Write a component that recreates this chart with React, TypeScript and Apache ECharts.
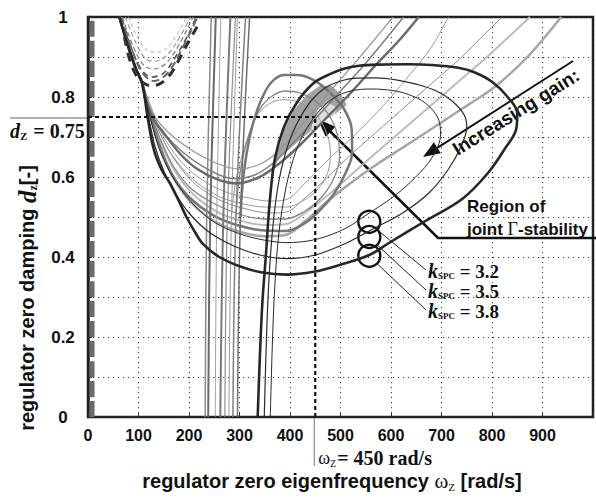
import { useEffect, useRef } from 'react';
import * as echarts from 'echarts';

const SANS = '"Liberation Sans", Arial, sans-serif';
const SERIF = '"Liberation Serif", "Times New Roman", serif';

// ---- axes ----
const xTickValues = [0, 100, 200, 300, 400, 500, 600, 700, 800, 900];
const yTickLabels = ['0', '0.2', '0.4', '0.6', '0.8', '1'];

// ---- chosen design point ----
const designOmega = 450;
const designDamping = 0.75;

// ---- stability boundaries: [omega_z rad/s, d_z -] ----
const bundleTop = [[62, 1], [80, 0.925], [95, 0.87], [107, 0.835]];

const dashBand = [[8, 0], [8, 1]];
const dashU1 = [[72, 0.95], [81, 0.9], [95, 0.855], [110, 0.835], [125, 0.828], [145, 0.835], [165, 0.86], [183, 0.9], [200, 0.94], [218, 0.98]];
const dashU2 = [[64, 1], [85, 0.925], [105, 0.87], [125, 0.85], [150, 0.86], [178, 0.91], [200, 0.96], [214, 1]];
const dashU3 = [[68, 1], [90, 0.925], [110, 0.88], [130, 0.87], [155, 0.885], [180, 0.93], [208, 1]];
const dashU4 = [[74, 1], [95, 0.935], [115, 0.895], [135, 0.89], [160, 0.91], [184, 0.955], [203, 1]];
const dashU5 = [[80, 1], [100, 0.945], [120, 0.915], [140, 0.912], [165, 0.935], [195, 1]];
const dashU6 = [[66, 1], [88, 0.915], [108, 0.86], [130, 0.84], [158, 0.86], [186, 0.92], [217, 1]];

const vert1 = [[232, 0], [235, 0.5], [244, 1]];
const vert2 = [[238, 0], [242, 0.5], [253, 1]];
const vert3 = [[252, 0], [255, 0.5], [263, 1]];
const vert4 = [[262, 0], [268, 0.5], [282, 1]];
const vert5 = [[271, 0], [276, 0.5], [292, 1]];
const vert6 = [[279, 0], [284, 0.5], [296, 1]];
const vert7 = [[287, 0], [293, 0.5], [312, 1]];
const vert8 = [[296, 0], [302, 0.5], [320, 1]];

const upper1 = [...bundleTop, [115, 0.79], [130, 0.745], [150, 0.71], [181, 0.66], [214, 0.622], [260, 0.592], [293, 0.584], [340, 0.6], [380, 0.635], [420, 0.68], [470, 0.745], [520, 0.81], [570, 0.88], [615, 0.94], [655, 1]];
const upper2 = [...bundleTop, [116, 0.785], [132, 0.74], [153, 0.705], [185, 0.665], [220, 0.632], [260, 0.605], [290, 0.596], [330, 0.605], [370, 0.638], [410, 0.69], [450, 0.745], [500, 0.815], [540, 0.87], [580, 0.93], [625, 1]];
const upper3 = [...bundleTop, [117, 0.79], [134, 0.748], [156, 0.715], [190, 0.68], [228, 0.65], [268, 0.628], [300, 0.62], [340, 0.632], [375, 0.662], [410, 0.71], [450, 0.77], [490, 0.83], [530, 0.887], [565, 0.94], [604, 1]];

const lower1 = [...bundleTop, [122, 0.76], [141, 0.68], [168, 0.6], [205, 0.535], [250, 0.49], [300, 0.463], [350, 0.452], [391, 0.455], [430, 0.49], [475, 0.54], [520, 0.585], [570, 0.63], [625, 0.675], [680, 0.72], [740, 0.77], [805, 0.825], [870, 0.9], [937, 1]];
const lower2 = [...bundleTop, [123, 0.765], [143, 0.69], [172, 0.615], [210, 0.555], [260, 0.51], [310, 0.488], [350, 0.48], [391, 0.482], [430, 0.51], [480, 0.56], [525, 0.61], [570, 0.66], [625, 0.72], [680, 0.78], [735, 0.84], [790, 0.9], [875, 1]];
const lower3 = [...bundleTop, [124, 0.77], [146, 0.7], [176, 0.635], [215, 0.58], [265, 0.54], [320, 0.518], [360, 0.51], [391, 0.512], [430, 0.548], [473, 0.598], [520, 0.655], [560, 0.7], [605, 0.75], [650, 0.8], [700, 0.855], [740, 0.9], [780, 0.95], [820, 1]];
const lower4 = [...bundleTop, [125, 0.775], [148, 0.705], [180, 0.645], [220, 0.598], [268, 0.565], [320, 0.547], [360, 0.54], [391, 0.543], [430, 0.585], [473, 0.64], [520, 0.695], [560, 0.745], [600, 0.8], [640, 0.86], [680, 0.925], [714, 1]];

const loop1 = [...bundleTop, [122, 0.76], [140, 0.685], [165, 0.61], [200, 0.55], [250, 0.503], [300, 0.478], [350, 0.466], [391, 0.465], [430, 0.485], [460, 0.518], [488, 0.56], [510, 0.61], [523, 0.66], [522, 0.72], [507, 0.77], [480, 0.81], [447, 0.842], [414, 0.855], [388, 0.855], [362, 0.835], [342, 0.79], [325, 0.725], [313, 0.65], [306, 0.58], [302, 0.5]];
const loop2 = [...bundleTop, [123, 0.765], [143, 0.695], [170, 0.625], [205, 0.57], [255, 0.53], [305, 0.505], [350, 0.495], [391, 0.495], [430, 0.515], [463, 0.55], [488, 0.6], [498, 0.65], [494, 0.705], [477, 0.755], [450, 0.79], [420, 0.81], [390, 0.815], [362, 0.8], [338, 0.765], [320, 0.71], [306, 0.645], [297, 0.57], [293, 0.5]];
const loop3 = [...bundleTop, [124, 0.77], [146, 0.7], [175, 0.64], [212, 0.59], [262, 0.55], [310, 0.532], [350, 0.525], [391, 0.525], [428, 0.542], [457, 0.572], [475, 0.612], [480, 0.66], [470, 0.718], [447, 0.762], [415, 0.788], [385, 0.793], [357, 0.782], [333, 0.75], [314, 0.69], [299, 0.625], [289, 0.56], [284, 0.5]];

// k_SPC = 3.2, 3.5, 3.8
const kspc32 = [...bundleTop, [122, 0.755], [137, 0.685], [155, 0.63], [178, 0.58], [210, 0.53], [250, 0.487], [300, 0.458], [350, 0.442], [394, 0.436], [435, 0.44], [473, 0.452], [515, 0.475], [551, 0.505], [604, 0.55], [649, 0.6], [682, 0.65], [698, 0.705], [694, 0.745], [668, 0.785], [635, 0.806], [604, 0.816], [560, 0.82], [520, 0.815], [490, 0.8], [465, 0.775], [440, 0.735], [420, 0.69], [403, 0.63], [390, 0.56], [378, 0.46], [370, 0.33], [365, 0.18], [361, 0]];
const kspc35 = [...bundleTop, [120, 0.75], [133, 0.675], [150, 0.615], [170, 0.565], [200, 0.51], [240, 0.462], [290, 0.427], [340, 0.405], [394, 0.396], [450, 0.405], [512, 0.435], [564, 0.47], [623, 0.51], [675, 0.56], [714, 0.62], [740, 0.68], [750, 0.725], [745, 0.755], [721, 0.79], [690, 0.815], [650, 0.832], [610, 0.843], [570, 0.848], [530, 0.847], [500, 0.84], [470, 0.823], [445, 0.795], [423, 0.755], [405, 0.71], [390, 0.655], [378, 0.59], [368, 0.5], [360, 0.38], [354, 0.22], [349, 0]];
const kspc38 = [...bundleTop, [118, 0.75], [130, 0.67], [145, 0.62], [162, 0.585], [180, 0.54], [195, 0.5], [212, 0.462], [228, 0.432], [260, 0.4], [300, 0.377], [342, 0.362], [394, 0.356], [447, 0.363], [498, 0.38], [557, 0.405], [596, 0.435], [668, 0.49], [741, 0.545], [792, 0.61], [825, 0.67], [848, 0.72], [850, 0.76], [831, 0.8], [800, 0.838], [765, 0.862], [733, 0.873], [680, 0.88], [635, 0.882], [576, 0.881], [537, 0.878], [505, 0.87], [479, 0.857], [447, 0.835], [414, 0.787], [388, 0.725], [370, 0.645], [360, 0.54], [352, 0.4], [345, 0.28], [340, 0.14], [336, 0]];

// region of joint stability (outer) and its core
const jointRegion = [[360, 0.605], [375, 0.662], [388, 0.718], [408, 0.768], [433, 0.805], [459, 0.828], [482, 0.828], [502, 0.805], [512, 0.78], [492, 0.76], [469, 0.743], [439, 0.713], [408, 0.68], [379, 0.648]];
const jointCore = [[441, 0.705], [445, 0.743], [457, 0.773], [476, 0.785], [494, 0.773], [488, 0.758], [467, 0.74], [449, 0.715]];

// reference lines to the design point
const refHorizontal = [[0, designDamping], [designOmega, designDamping]];
const refVertical = [[designOmega, 0], [designOmega, designDamping]];

// curve markers for the three gains
const kCircleCenters = [[557, 0.488], [557, 0.45], [557, 0.403]];
const kValues = ['3.2', '3.5', '3.8'];
const arrowTarget = [455, 0.745];

type Styled = { data: number[][]; color: string; width: number; dash?: number[] };

const curves: Styled[] = [
  { data: dashBand, color: '#6c6c6c', width: 5, dash: [16, 4] },
  { data: dashU5, color: '#b0b0b0', width: 1, dash: [4, 3] },
  { data: dashU4, color: '#9a9a9a', width: 1.2, dash: [5, 3] },
  { data: dashU3, color: '#7c7c7c', width: 1.2, dash: [5, 3] },
  { data: dashU2, color: '#555555', width: 1.6, dash: [6, 4] },
  { data: dashU6, color: '#686868', width: 2, dash: [8, 4] },
  { data: dashU1, color: '#2e2e2e', width: 3, dash: [9, 7] },
  { data: lower2, color: '#bcbcbc', width: 2 },
  { data: lower1, color: '#a6a6a6', width: 2.5 },
  { data: lower4, color: '#9a9a9a', width: 1 },
  { data: lower3, color: '#8c8c8c', width: 1 },
  { data: loop3, color: '#979797', width: 1 },
  { data: loop2, color: '#858585', width: 1.3 },
  { data: loop1, color: '#767676', width: 2.5 },
  { data: vert3, color: '#a0a0a0', width: 1 },
  { data: vert6, color: '#9a9a9a', width: 1 },
  { data: vert5, color: '#909090', width: 1.2 },
  { data: vert1, color: '#8a8a8a', width: 1.5 },
  { data: vert7, color: '#808080', width: 1.5 },
  { data: vert4, color: '#7a7a7a', width: 2 },
  { data: vert8, color: '#6e6e6e', width: 1.5 },
  { data: vert2, color: '#6a6a6a', width: 2 },
  { data: upper3, color: '#959595', width: 1.2 },
  { data: upper2, color: '#7e7e7e', width: 1.5 },
  { data: upper1, color: '#6a6a6a', width: 2.5 },
  { data: kspc32, color: '#2a2a2a', width: 1 },
  { data: kspc35, color: '#2a2a2a', width: 1.2 },
  { data: kspc38, color: '#262626', width: 2.6 },
];

function arrowHead(tip: number[], from: number[], len: number, half: number) {
  const dx = tip[0] - from[0];
  const dy = tip[1] - from[1];
  const L = Math.hypot(dx, dy);
  const ux = dx / L;
  const uy = dy / L;
  const bx = tip[0] - ux * len;
  const by = tip[1] - uy * len;
  return [tip, [bx - uy * half, by + ux * half], [bx + uy * half, by - ux * half]];
}

export default function App() {
  const ref = useRef<HTMLDivElement>(null);

  useEffect(() => {
    document.body.style.margin = '0';
    const chart = echarts.init(ref.current!, undefined, { renderer: 'svg' });

    const lineSeries = curves.map((c) => ({
      type: 'line',
      data: c.data,
      smooth: 0.35,
      showSymbol: false,
      silent: true,
      z: 3,
      lineStyle: { color: c.color, width: c.width, type: c.dash ? c.dash : 'solid', cap: 'butt' },
    }));

    chart.setOption({
      animation: false,
      grid: {
        left: 88, top: 17, right: -3, bottom: 81,
        show: true, borderColor: '#1e1e1e', borderWidth: 2.5, backgroundColor: 'transparent',
      },
      xAxis: {
        type: 'value', min: 0, max: 1000, interval: 100,
        axisLine: { show: true, lineStyle: { color: '#222', width: 2 } },
        axisTick: { show: true, inside: true, length: 4, lineStyle: { color: '#333' } },
        axisLabel: {
          fontFamily: SANS, fontWeight: 'bold', fontSize: 16, color: '#111', margin: 10,
          formatter: (v: number) => (xTickValues.includes(v) ? String(v) : ''),
        },
        splitLine: { show: true, lineStyle: { color: '#3a3a3a', width: 1, type: [1.2, 3.8] } },
      },
      yAxis: {
        type: 'value', min: 0, max: 1, interval: 0.1,
        axisLine: { show: true, lineStyle: { color: '#1e1e1e', width: 2.5 } },
        axisTick: { show: true, inside: true, length: 4, lineStyle: { color: '#333' } },
        axisLabel: {
          fontFamily: SANS, fontWeight: 'bold', fontSize: 17, color: '#111', margin: 25, align: 'center',
          formatter: (v: number) => {
            const s = String(+v.toFixed(1));
            return yTickLabels.includes(s) ? s : '';
          },
        },
        splitLine: { show: true, lineStyle: { color: '#3a3a3a', width: 1, type: [1.2, 3.8] } },
      },
      series: [
        {
          type: 'custom',
          coordinateSystem: 'cartesian2d',
          silent: true,
          z: 2,
          data: [[0, 0]],
          renderItem: (_p: any, api: any) => ({
            type: 'group',
            children: [
              { type: 'polygon', shape: { points: jointRegion.map((p) => api.coord(p)) }, style: { fill: '#a2a2a2' } },
              { type: 'polygon', shape: { points: jointCore.map((p) => api.coord(p)) }, style: { fill: '#dcdcdc' } },
            ],
          }),
        },
        ...lineSeries,
        {
          type: 'line', data: refHorizontal, showSymbol: false, silent: true, z: 4,
          lineStyle: { color: '#111', width: 2.2, type: [4, 3] },
        },
        {
          type: 'line', data: refVertical, showSymbol: false, silent: true, z: 4,
          lineStyle: { color: '#111', width: 2.2, type: [4, 3] },
        },
      ],
    });

    const px = (p: number[]) => chart.convertToPixel({ gridIndex: 0 }, p) as number[];
    const design = px([designOmega, designDamping]);
    const origin = px([designOmega, 0]);
    const tip = px(arrowTarget);

    const gainFrom = [573, 61];
    const gainTo = [423, 157];
    const leaderCorner = [438, 238];

    const graphics: any[] = [
      // d_Z marker left of the axis
      { type: 'line', shape: { x1: 10, y1: design[1] + 1, x2: 87, y2: design[1] + 1 }, style: { stroke: '#666', lineWidth: 1 } },
      {
        type: 'text', x: 10, y: design[1] + 14,
        style: {
          text: '{d|d}{s|Z}{t| = 0.75}', verticalAlign: 'middle', align: 'left',
          rich: {
            d: { fontFamily: SERIF, fontStyle: 'italic', fontWeight: 'bold', fontSize: 20, fill: '#111', lineHeight: 20 },
            s: { fontFamily: SERIF, fontWeight: 'bold', fontSize: 11, fill: '#111', verticalAlign: 'bottom', lineHeight: 19, padding: [0, 1, 0, 0] },
            t: { fontFamily: SERIF, fontWeight: 'bold', fontSize: 20, fill: '#111', lineHeight: 20 },
          },
        },
      },
      // omega_Z marker below the axis
      { type: 'line', shape: { x1: origin[0] - 1, y1: origin[1] + 1, x2: origin[0] - 1, y2: origin[1] + 49 }, style: { stroke: '#777', lineWidth: 1 } },
      {
        type: 'text', x: origin[0] + 3, y: origin[1] + 41,
        style: {
          text: '{w|ω}{s|Z}{t|= 450 rad/s}', verticalAlign: 'middle', align: 'left',
          rich: {
            w: { fontFamily: SERIF, fontSize: 18, fill: '#111', lineHeight: 20 },
            s: { fontFamily: SERIF, fontSize: 10, fill: '#111', verticalAlign: 'bottom', lineHeight: 19, padding: [0, 1, 0, 0] },
            t: { fontFamily: SERIF, fontWeight: 'bold', fontSize: 20, fill: '#111', lineHeight: 20 },
          },
        },
      },
      // axis titles
      {
        type: 'text', x: 27, y: 298, rotation: Math.PI / 2,
        style: {
          text: '{a|regulator zero damping }{d|d}{s|z}{a|[-]}', align: 'center', verticalAlign: 'middle',
          rich: {
            a: { fontFamily: SANS, fontWeight: 'bold', fontSize: 20, fill: '#111', lineHeight: 24 },
            d: { fontFamily: SERIF, fontStyle: 'italic', fontWeight: 'bold', fontSize: 25, fill: '#111', lineHeight: 24 },
            s: { fontFamily: SERIF, fontWeight: 'bold', fontSize: 12, fill: '#111', verticalAlign: 'bottom', lineHeight: 24 },
          },
        },
      },
      {
        type: 'text', x: 332, y: 481,
        style: {
          text: '{a|regulator zero eigenfrequency }{w|ω}{s|Z}{a| [rad/s]}', align: 'center', verticalAlign: 'middle',
          rich: {
            a: { fontFamily: SANS, fontWeight: 'bold', fontSize: 20, fill: '#111', lineHeight: 22 },
            w: { fontFamily: SERIF, fontSize: 21, fill: '#111', lineHeight: 22 },
            s: { fontFamily: SERIF, fontSize: 11, fill: '#111', verticalAlign: 'bottom', lineHeight: 22 },
          },
        },
      },
      // increasing gain arrow
      { type: 'line', shape: { x1: gainFrom[0], y1: gainFrom[1], x2: gainTo[0] + 10, y2: gainTo[1] - 6.4 }, style: { stroke: '#111', lineWidth: 2 } },
      { type: 'polygon', shape: { points: arrowHead(gainTo, gainFrom, 17, 6.5) }, style: { fill: '#111' } },
      {
        type: 'text', x: 516, y: 112, rotation: (32 * Math.PI) / 180,
        style: { text: 'Increasing gain:', fontFamily: SANS, fontWeight: 'bold', fontSize: 19, fill: '#111', align: 'center', verticalAlign: 'middle' },
      },
      // region annotation with leader to the design point
      {
        type: 'text', x: 467, y: 206,
        style: { text: 'Region of', fontFamily: SANS, fontWeight: 'bold', fontSize: 17, fill: '#111', align: 'left', verticalAlign: 'middle' },
      },
      {
        type: 'text', x: 467, y: 229,
        style: {
          text: '{a|joint }{g|Γ}{a|-stability}', align: 'left', verticalAlign: 'middle',
          rich: {
            a: { fontFamily: SANS, fontWeight: 'bold', fontSize: 17, fill: '#111' },
            g: { fontFamily: SERIF, fontSize: 18, fill: '#111' },
          },
        },
      },
      {
        type: 'polyline',
        shape: { points: [[600, leaderCorner[1]], leaderCorner, [tip[0] + 9, tip[1] + 9]] },
        style: { stroke: '#111', lineWidth: 2.5, fill: 'none' },
      },
      { type: 'polygon', shape: { points: arrowHead(tip, leaderCorner, 18, 7) }, style: { fill: '#111' } },
    ];

    const labelY = [271, 291, 311];
    kCircleCenters.forEach((c, i) => {
      const p = px(c);
      graphics.push({ type: 'circle', shape: { cx: p[0], cy: p[1], r: 11 }, style: { stroke: '#111', lineWidth: 2.4, fill: 'none' } });
      graphics.push({ type: 'line', shape: { x1: p[0] + 8, y1: p[1] + 8, x2: 426, y2: labelY[i] - 1 }, style: { stroke: '#222', lineWidth: 1 } });
      graphics.push({
        type: 'text', x: 428, y: labelY[i],
        style: {
          text: `{k|k}{s|SPC}{t| = ${kValues[i]}}`, align: 'left', verticalAlign: 'middle',
          rich: {
            k: { fontFamily: SERIF, fontStyle: 'italic', fontWeight: 'bold', fontSize: 20, fill: '#111', lineHeight: 18 },
            s: { fontFamily: SERIF, fontWeight: 'bold', fontSize: 9, fill: '#111', verticalAlign: 'bottom', lineHeight: 17 },
            t: { fontFamily: SERIF, fontWeight: 'bold', fontSize: 19, fill: '#111', lineHeight: 18 },
          },
        },
      });
    });

    chart.setOption({ graphic: graphics });

    return () => chart.dispose();
  }, []);

  return <div ref={ref} style={{ width: 596, height: 498 }} />;
}
